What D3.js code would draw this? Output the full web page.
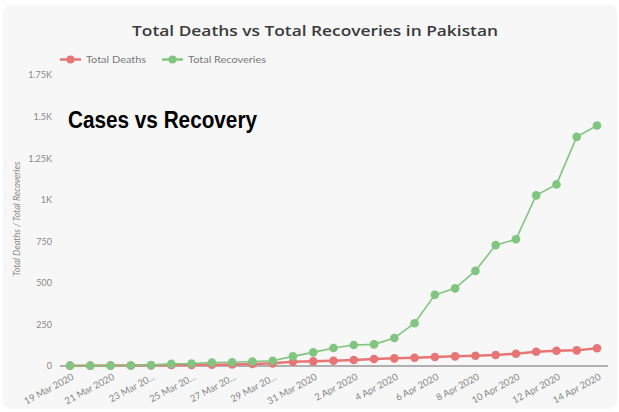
<!DOCTYPE html>
<html>
<head>
<meta charset="utf-8">
<script src="https://cdn.jsdelivr.net/npm/d3@7"></script>
<style>
  body { margin: 0; background: #fff; }
  svg { display: block; }
</style>
</head>
<body>
<div id="chart"></div>
<script>
// data
let dates = ["19 Mar", "20 Mar", "21 Mar", "22 Mar", "23 Mar", "24 Mar", "25 Mar", "26 Mar", "27 Mar",
    "28 Mar", "29 Mar", "30 Mar", "31 Mar", "1 Apr", "2 Apr", "3 Apr", "4 Apr", "5 Apr", "6 Apr",
    "7 Apr", "8 Apr", "9 Apr", "10 Apr", "11 Apr", "12 Apr", "13 Apr", "14 Apr"];
let deaths = [2, 2, 3, 3, 4, 6, 7, 8, 9, 12, 16, 26, 28, 32, 36, 42, 46, 50, 54, 58, 62, 66, 74, 86, 92, 94, 107];
let recoveries = [2, 2, 2, 3, 5, 13, 15, 21, 23, 27, 32, 58, 82, 108, 126, 130, 168, 257, 428, 467, 572, 727, 762, 1026, 1092, 1378, 1446];
let xLabels = ["19 Mar 2020", "", "21 Mar 2020", "", "23 Mar 20...", "", "25 Mar 20...", "", "27 Mar 20...", "",
    "29 Mar 20...", "", "31 Mar 2020", "", "2 Apr 2020", "", "4 Apr 2020", "", "6 Apr 2020", "",
    "8 Apr 2020", "", "10 Apr 2020", "", "12 Apr 2020", "", "14 Apr 2020"];
let yTicks = [0, 250, 500, 750, 1000, 1250, 1500, 1750];
let yTickLabels = ["0", "250", "500", "750", "1K", "1.25K", "1.5K", "1.75K"];

let width = 619, height = 412;
let red = "#e87575", green = "#80c680";

let svg = d3.select("#chart").append("svg")
    .attr("width", width)
    .attr("height", height);

// card background
svg.append("rect")
    .attr("x", 3).attr("y", 5)
    .attr("width", 614).attr("height", 404)
    .attr("rx", 8)
    .attr("fill", "#f7f7f7");

let x = d3.scalePoint()
    .domain(dates)
    .range([70, 597]);

let y = d3.scaleLinear()
    .domain([0, 1750])
    .range([366, 75]);

// title
svg.append("text")
    .attr("x", 315).attr("y", 36)
    .attr("text-anchor", "middle")
    .attr("font-family", "Open Sans, sans-serif")
    .attr("font-size", 15)
    .attr("font-weight", 600)
    .attr("fill", "#3a3a3a")
    .attr("textLength", 366)
    .attr("lengthAdjust", "spacingAndGlyphs")
    .text("Total Deaths vs Total Recoveries in Pakistan");

// legend
let legend = [{name: "Total Deaths", color: red, x: 60, len: 60}, {name: "Total Recoveries", color: green, x: 162, len: 78}];
legend.forEach(function(l) {
    svg.append("line")
        .attr("x1", l.x).attr("x2", l.x + 21)
        .attr("y1", 59.5).attr("y2", 59.5)
        .attr("stroke", l.color).attr("stroke-width", 2.5);
    svg.append("circle")
        .attr("cx", l.x + 10.5).attr("cy", 59.5).attr("r", 4)
        .attr("fill", l.color);
    svg.append("text")
        .attr("x", l.x + 26).attr("y", 63)
        .attr("font-family", "Lato, sans-serif")
        .attr("font-size", 10)
        .attr("fill", "#777")
        .attr("textLength", l.len)
        .attr("lengthAdjust", "spacingAndGlyphs")
        .text(l.name);
});

// y axis labels
let yAxis = d3.axisLeft(y)
    .tickValues(yTicks)
    .tickFormat((d, i) => yTickLabels[i])
    .tickSize(0)
    .tickPadding(8);
let yg = svg.append("g")
    .attr("transform", "translate(60,0)")
    .call(yAxis);
yg.select(".domain").remove();
yg.selectAll("text")
    .attr("font-family", "Lato, sans-serif")
    .attr("font-size", 9)
    .attr("fill", "#888");

svg.append("text")
    .attr("transform", "translate(20,219) rotate(-90)")
    .attr("text-anchor", "middle")
    .attr("font-family", "Lato, sans-serif")
    .attr("font-style", "italic")
    .attr("font-size", 9)
    .attr("fill", "#888")
    .text("Total Deaths / Total Recoveries");

// x axis
let xAxis = d3.axisBottom(x)
    .tickFormat((d, i) => xLabels[i])
    .tickSize(0)
    .tickPadding(0);
let xg = svg.append("g")
    .attr("transform", "translate(0," + y(0) + ")")
    .call(xAxis);
xg.select(".domain").remove();
xg.selectAll("text")
    .attr("font-family", "Lato, sans-serif")
    .attr("font-size", 9.5)
    .attr("fill", "#888")
    .attr("text-anchor", "end")
    .attr("dy", 0)
    .attr("transform", "translate(4,13) rotate(-28)");

svg.append("line")
    .attr("x1", 60).attr("x2", 608)
    .attr("y1", y(0)).attr("y2", y(0))
    .attr("stroke", "#999").attr("stroke-width", 1.5);

// series
let series = [{values: deaths, color: red, w: 2.5}, {values: recoveries, color: green, w: 1.6}];
let line = d3.line()
    .x((d, i) => x(dates[i]))
    .y(d => y(d));

series.forEach(function(s) {
    svg.append("path")
        .datum(s.values)
        .attr("fill", "none")
        .attr("stroke", s.color)
        .attr("stroke-width", s.w)
        .attr("d", line);
    svg.selectAll(null)
        .data(s.values)
        .enter()
        .append("circle")
        .attr("cx", (d, i) => x(dates[i]))
        .attr("cy", d => y(d))
        .attr("r", 4.3)
        .attr("fill", s.color);
});

// overlay text
svg.append("text")
    .attr("x", 68).attr("y", 128)
    .attr("font-family", "Liberation Sans, Arial, sans-serif")
    .attr("font-weight", "bold")
    .attr("font-size", 23)
    .attr("textLength", 189)
    .attr("lengthAdjust", "spacingAndGlyphs")
    .attr("fill", "#000")
    .text("Cases vs Recovery");
</script>
</body>
</html>
